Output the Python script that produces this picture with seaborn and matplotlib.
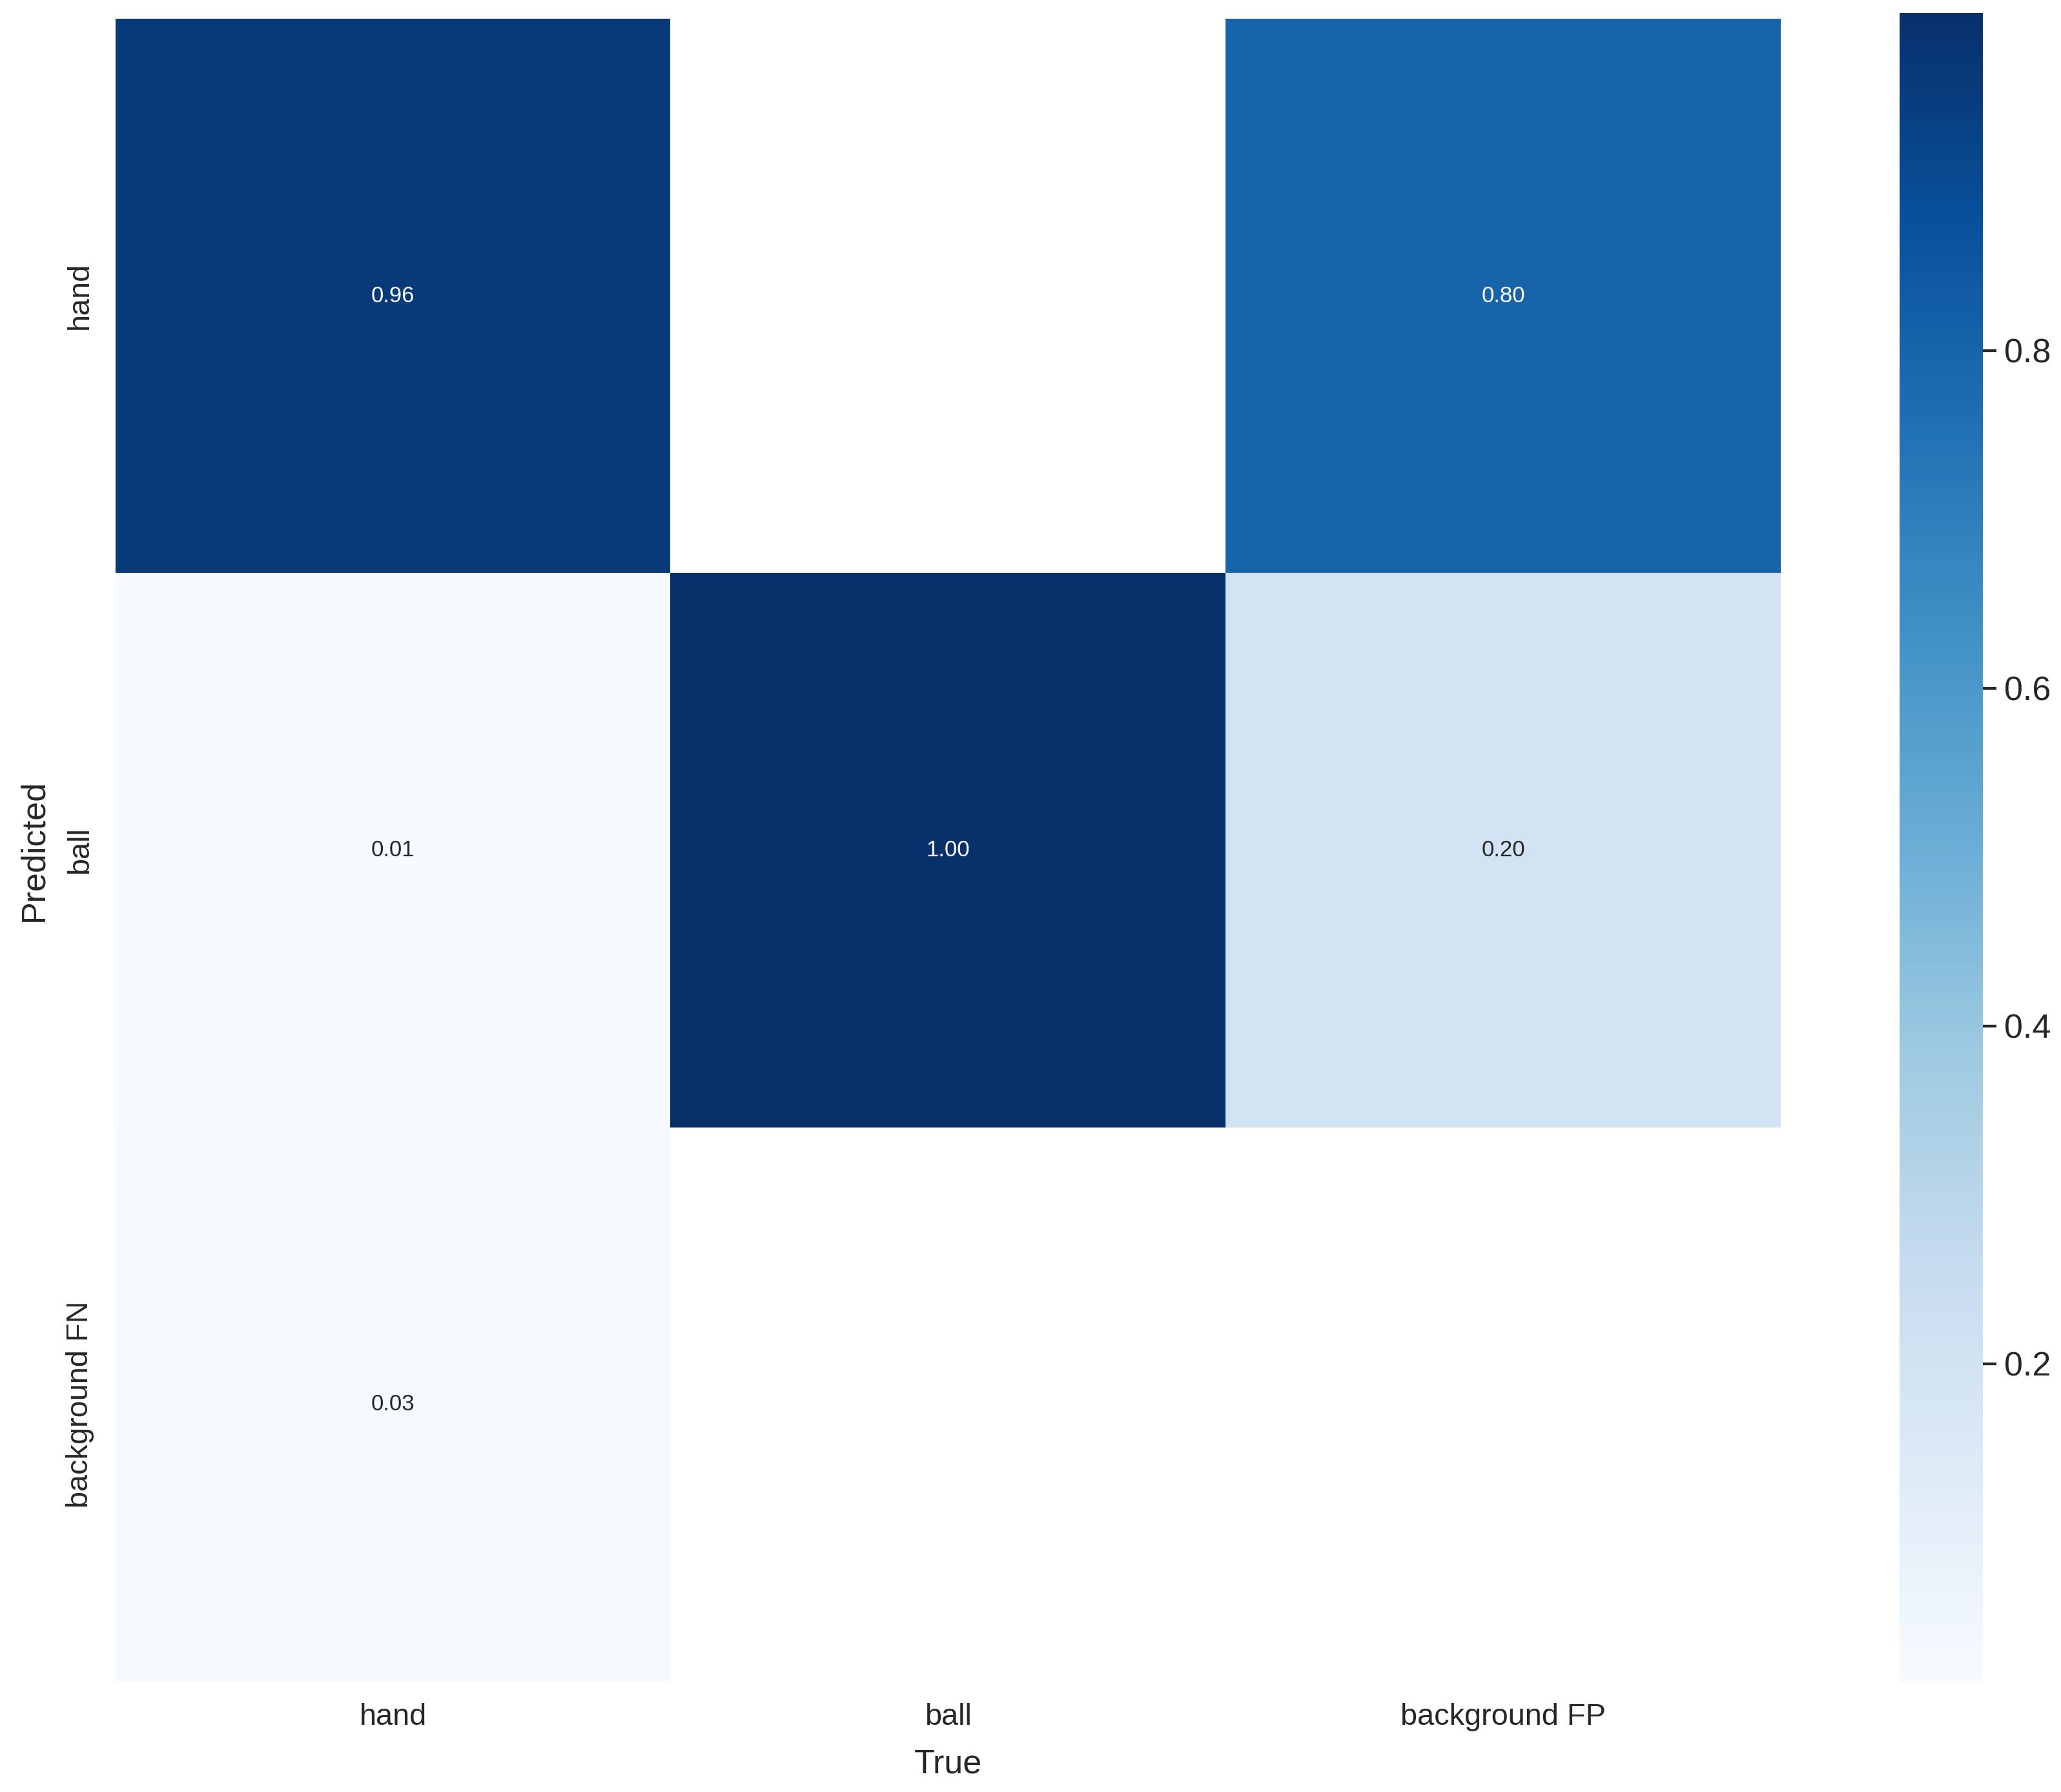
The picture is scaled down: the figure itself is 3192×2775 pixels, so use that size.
import numpy as np
import seaborn as sns
from matplotlib import pyplot as plt

# confusion matrix, columns = true class, rows = predicted class
true_names = ['hand', 'ball', 'background FP']
pred_names = ['hand', 'ball', 'background FN']
col_hand = [0.962, 0.011, 0.027]
col_ball = [np.nan, 0.999999, np.nan]
col_bg_fp = [0.799999, 0.199999, np.nan]

matrix = np.array([col_hand, col_ball, col_bg_fp]).T

sns.set(font_scale=1.0)
plt.rcParams['font.family'] = ['Liberation Sans', 'DejaVu Sans']

fig = plt.figure(figsize=(12.768, 11.1), dpi=250)
ax = fig.add_axes([0.056, 0.0616, 0.808, 0.928])
cax = fig.add_axes([0.9217, 0.0609, 0.0404, 0.9319])

sns.heatmap(matrix, annot=True, annot_kws={'size': 10}, cmap='Blues', fmt='.2f',
            xticklabels=true_names, yticklabels=pred_names,
            ax=ax, cbar_ax=cax).set_facecolor((1, 1, 1))

ax.tick_params(axis='both', labelsize=13.5)
cax.tick_params(labelsize=15)
ax.set_xlabel('True', fontsize=15, labelpad=7.5)
ax.set_ylabel('Predicted', fontsize=15, labelpad=7)

fig.savefig('out.png', dpi=250)
